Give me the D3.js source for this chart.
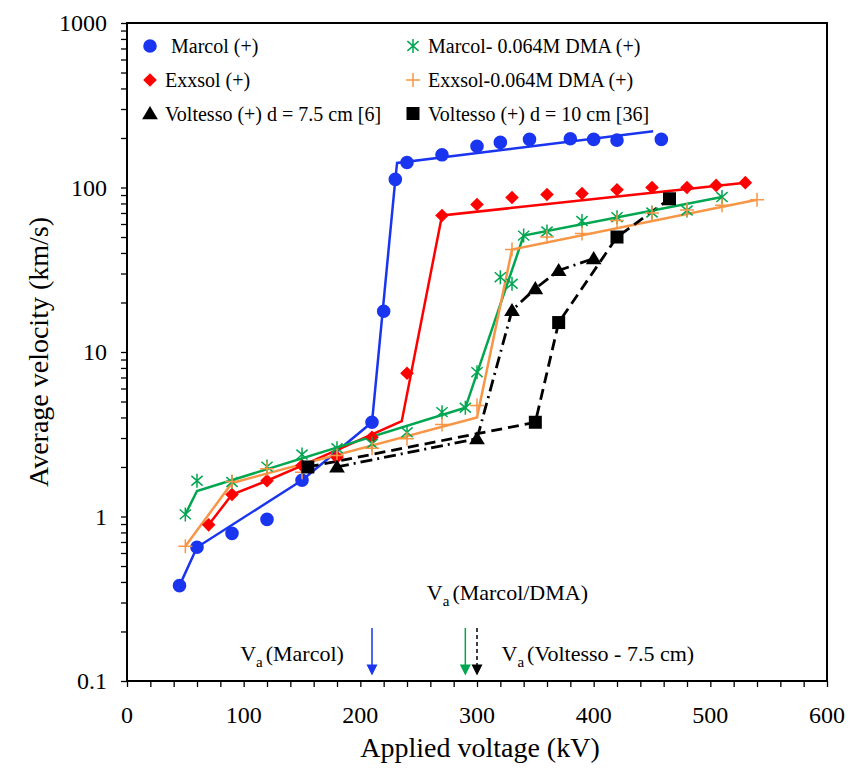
<!DOCTYPE html>
<html>
<head>
<meta charset="utf-8">
<script src="https://cdn.jsdelivr.net/npm/d3@7"></script>
<style>
  body { margin: 0; background: #fff; }
  svg, svg text { font-family: "Liberation Serif", "DejaVu Serif", serif; }
</style>
</head>
<body>
<div id="chart"></div>
<script>
// ---- data ----
const marcolV = [45, 60, 90, 120, 150, 210, 220, 230, 240, 270, 300, 320, 345, 380, 400, 420, 458];
const marcolU = [0.38, 0.65, 0.79, 0.96, 1.66, 3.74, 17.7, 112, 142, 158, 178, 188, 196, 198, 196, 194, 196];
const marcolFitV = [45, 60, 150, 210, 230, 231.5, 451];
const marcolFitU = [0.38, 0.65, 1.66, 3.74, 112, 141, 220];

const exxsolV = [70, 90, 120, 150, 180, 210, 240, 270, 300, 330, 360, 390, 420, 450, 480, 505, 530];
const exxsolU = [0.89, 1.36, 1.65, 2.04, 2.29, 3.03, 7.43, 67.6, 78.8, 87, 90.7, 92, 97, 100, 100, 103, 107];
const exxsolFitV = [70, 90, 120, 150, 235.5, 270, 530];
const exxsolFitU = [0.89, 1.36, 1.65, 2.04, 3.8, 67.6, 107];

const marcolDmaV = [50, 60, 90, 120, 150, 180, 210, 240, 270, 290, 300, 320, 330, 340, 360, 390, 420, 450, 480, 510];
const marcolDmaU = [1.03, 1.65, 1.62, 2.01, 2.38, 2.6, 2.77, 3.25, 4.31, 4.58, 7.54, 28.5, 26, 51, 54, 62.6, 66, 70.5, 72.5, 87.5];
const marcolDmaFitV = [50, 60, 290, 340, 510];
const marcolDmaFitU = [1.03, 1.43, 4.58, 51, 87.5];

const exxsolDmaV = [50, 90, 120, 150, 180, 210, 240, 270, 300, 330, 360, 390, 420, 450, 480, 510, 540];
const exxsolDmaU = [0.66, 1.63, 1.95, 1.86, 2.35, 2.6, 2.97, 3.63, 4.73, 42, 50, 52.6, 63, 70, 73, 78, 84.3];
const exxsolDmaFitV = [50, 90, 300, 330, 540];
const exxsolDmaFitU = [0.66, 1.6, 4.0, 42, 84.3];

const volt75V = [180, 300, 330, 350, 370, 400];
const volt75U = [2.0, 2.97, 17.9, 24.3, 31.3, 37];
const volt10V = [155, 350, 370, 420, 465];
const volt10U = [2.0, 3.74, 15.1, 50, 85.4];

const xTicks = [0, 100, 200, 300, 400, 500, 600];
const yTicks = [0.1, 1, 10, 100, 1000];

// onset voltage arrows (kV) and their annotation texts
const arrowV = [210, 290, 300];
const arrowColor = ["#1a35f0", "#00a650", "#000"];
const arrowDashed = [false, false, true];
const arrowFrom = 0.21, arrowTo = 0.108;
const notes = [
  { v: 97, u: 0.133, label: "(Marcol)" },
  { v: 257, u: 0.309, label: "(Marcol/DMA)" },
  { v: 321, u: 0.133, label: "(Voltesso - 7.5 cm)" }
];

// ---- layout ----
const width = 852, height = 771;
const mLeft = 127, mRight = 827, mTop = 23, mBottom = 681;

const x = d3.scaleLinear().domain([0, 600]).range([mLeft, mRight]);
const y = d3.scaleLog().domain([0.1, 1000]).range([mBottom, mTop]);

const svg = d3.select("#chart").append("svg")
  .attr("width", width)
  .attr("height", height)
  .attr("font-family", "Liberation Serif, DejaVu Serif, serif");

// marker shapes
const markers = {
  circle: r => d3.symbol(d3.symbolCircle, Math.PI * r * r)(),
  diamond: r => `M0,${-r}L${r},0L0,${r}L${-r},0Z`,
  square: r => `M${-r},${-r}H${r}V${r}H${-r}Z`,
  triangle: r => `M0,${-r}L${r * 1.05},${r * 0.75}L${-r * 1.05},${r * 0.75}Z`,
  star: r => `M0,${-r}V${r}M${-r * 0.8},${-r * 0.7}L${r * 0.8},${r * 0.7}M${-r * 0.8},${r * 0.7}L${r * 0.8},${-r * 0.7}`,
  plus: r => `M0,${-r}V${r}M${-r},0H${r}`
};

const series = [
  { name: "Marcol (+)", V: marcolV, U: marcolU, fV: marcolFitV, fU: marcolFitU, color: "#1a35f0", shape: "circle", size: 6.8, filled: true, dash: null },
  { name: "Exxsol (+)", V: exxsolV, U: exxsolU, fV: exxsolFitV, fU: exxsolFitU, color: "#ff0000", shape: "diamond", size: 6.8, filled: true, dash: null },
  { name: "Marcol- 0.064M DMA (+)", V: marcolDmaV, U: marcolDmaU, fV: marcolDmaFitV, fU: marcolDmaFitU, color: "#00a650", shape: "star", size: 7, filled: false, dash: null },
  { name: "Exxsol-0.064M DMA (+)", V: exxsolDmaV, U: exxsolDmaU, fV: exxsolDmaFitV, fU: exxsolDmaFitU, color: "#f79646", shape: "plus", size: 7, filled: false, dash: null },
  { name: "Voltesso (+) d = 7.5 cm [6]", V: volt75V, U: volt75U, fV: volt75V, fU: volt75U, color: "#000", shape: "triangle", size: 7.5, filled: true, dash: "12,5,2,5" },
  { name: "Voltesso (+) d = 10 cm [36]", V: volt10V, U: volt10U, fV: volt10V, fU: volt10U, color: "#000", shape: "square", size: 6.5, filled: true, dash: "11,6" }
];

// ---- axes ----
const minorX = d3.range(0, 601, 20);
const minorY = [];
for (let e = -1; e < 3; e++) for (let k = 1; k <= 9; k++) minorY.push(k * Math.pow(10, e));
minorY.push(1000);

const xAxis = svg.append("g").attr("transform", `translate(0,${mBottom})`)
  .call(d3.axisBottom(x).tickValues(minorX).tickSize(6).tickFormat(""));
const yAxis = svg.append("g").attr("transform", `translate(${mLeft},0)`)
  .call(d3.axisLeft(y).tickValues(minorY).tickSize(6).tickFormat(""));
[xAxis, yAxis].forEach(g => {
  g.select(".domain").remove();
  g.selectAll("line").attr("stroke", "#000").attr("stroke-width", 1.3);
});

svg.append("rect")
  .attr("x", mLeft).attr("y", mTop)
  .attr("width", mRight - mLeft).attr("height", mBottom - mTop)
  .attr("fill", "none").attr("stroke", "#000").attr("stroke-width", 2);

svg.append("g").selectAll("text").data(xTicks).join("text")
  .attr("x", d => x(d)).attr("y", mBottom + 42)
  .attr("text-anchor", "middle").attr("font-size", 24)
  .text(d => d);

svg.append("g").selectAll("text").data(yTicks).join("text")
  .attr("x", mLeft - 20).attr("y", d => y(d) + 8)
  .attr("text-anchor", "end").attr("font-size", 24)
  .text(d => d);

svg.append("text")
  .attr("x", (mLeft + mRight) / 2 + 3).attr("y", 757)
  .attr("text-anchor", "middle").attr("font-size", 28)
  .text("Applied voltage (kV)");

svg.append("text")
  .attr("transform", `translate(48,${(mTop + mBottom) / 2}) rotate(-90)`)
  .attr("text-anchor", "middle").attr("font-size", 28)
  .text("Average velocity (km/s)");

// ---- fit lines ----
const line = d3.line().x(d => x(d[0])).y(d => y(d[1]));
series.forEach(s => {
  svg.append("path")
    .datum(d3.zip(s.fV, s.fU))
    .attr("d", line)
    .attr("fill", "none")
    .attr("stroke", s.color)
    .attr("stroke-width", s.dash ? 2.8 : 2.5)
    .attr("stroke-dasharray", s.dash);
});

// ---- markers ----
function drawMarker(g, s) {
  g.append("path")
    .attr("d", markers[s.shape](s.size))
    .attr("fill", s.filled ? s.color : "none")
    .attr("stroke", s.color)
    .attr("stroke-width", s.filled ? 0 : 1.5);
}
series.forEach(s => {
  svg.append("g").selectAll("g").data(d3.zip(s.V, s.U)).join("g")
    .attr("transform", d => `translate(${x(d[0])},${y(d[1])})`)
    .each(function () { drawMarker(d3.select(this), s); });
});

// ---- onset arrows ----
arrowV.forEach((v, i) => {
  const g = svg.append("g");
  g.append("line")
    .attr("x1", x(v)).attr("x2", x(v))
    .attr("y1", y(arrowFrom)).attr("y2", y(arrowTo) - 8)
    .attr("stroke", arrowColor[i]).attr("stroke-width", 1.5)
    .attr("stroke-dasharray", arrowDashed[i] ? "4,3" : null);
  const tx = x(v), ty = y(arrowTo);
  g.append("path")
    .attr("d", `M${tx - 5.5},${ty - 11}L${tx + 5.5},${ty - 11}L${tx},${ty}Z`)
    .attr("fill", arrowColor[i]);
});

notes.forEach(n => {
  const t = svg.append("text")
    .attr("x", x(n.v)).attr("y", y(n.u))
    .attr("font-size", 22);
  t.append("tspan").text("V");
  t.append("tspan").attr("font-size", 15).attr("dy", 6).text("a");
  t.append("tspan").attr("dy", -6).attr("dx", 3).text(n.label);
});

// ---- legend ----
const legendX = [150, 413];
const legendY = [46, 80, 113.5];
const legendOrder = [0, 2, 1, 3, 4, 5];
legendOrder.forEach((si, k) => {
  const s = series[si];
  const cx = legendX[k % 2], cy = legendY[Math.floor(k / 2)];
  const g = svg.append("g").attr("transform", `translate(${cx},${cy})`);
  drawMarker(g, s);
  g.append("text")
    .attr("x", si === 0 ? 21 : 15).attr("y", 7)
    .attr("font-size", 20)
    .text(s.name);
});
</script>
</body>
</html>
